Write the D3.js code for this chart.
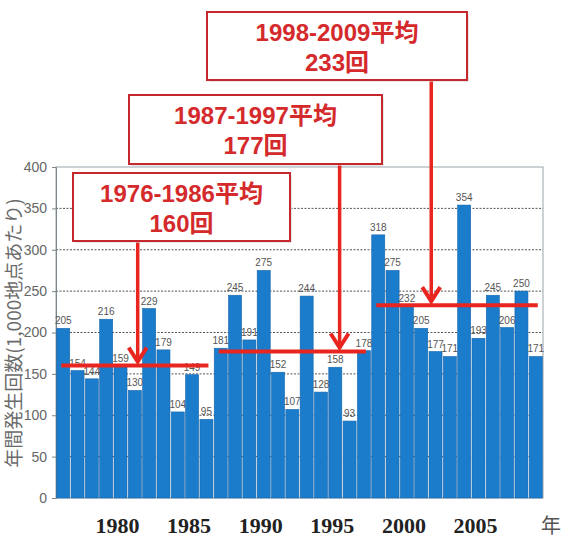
<!DOCTYPE html>
<html>
<head>
<meta charset="utf-8">
<script src="https://cdn.jsdelivr.net/npm/d3@7"></script>
<style>
  html, body { margin: 0; padding: 0; background: #fff; }
  svg { display: block; }
</style>
</head>
<body>
<svg id="chart" width="564" height="539"></svg>
<script>
// Annual occurrences per 1,000 observation points, 1976–2009
const years = d3.range(1976, 2010);
const counts = [205, 154, 144, 216, 159, 130, 229, 179, 104, 149, 95,
                181, 245, 191, 275, 152, 107, 244, 128, 158, 93, 178,
                318, 275, 232, 205, 177, 171, 354, 193, 245, 206, 250, 171];
const yTicks = [0, 50, 100, 150, 200, 250, 300, 350, 400];
const xTickYears = [1980, 1985, 1990, 1995, 2000, 2005];

// Period averages
const periodStart = [1976, 1987, 1998];
const periodEnd = [1986, 1997, 2009];
const periodAvg = [160, 177, 233];
const arrowYear = [1981.2, 1995.3, 2001.7];

// Callout box placement (pixels)
const boxes = [
  { x0: 73, x1: 290, y0: 173, y1: 241 },
  { x0: 129, x1: 382, y0: 95, y1: 164 },
  { x0: 207, x1: 467, y0: 12, y1: 80 }
];

const svg = d3.select("#chart");
const plot = { left: 56, right: 543, top: 167, bottom: 498 };

const x = d3.scaleBand().domain(years).range([plot.left, plot.right])
  .paddingInner(0.09).paddingOuter(0.05);
const y = d3.scaleLinear().domain([0, 400]).range([plot.bottom, plot.top]);
// continuous year position (center of band)
const xc = d3.scaleLinear()
  .domain([1976, 2009])
  .range([x(1976) + x.bandwidth() / 2, x(2009) + x.bandwidth() / 2]);

const red = "#e8261f";
const boxRed = "#c4282c";
const textRed = "#d52a2c";

// gridlines (dotted)
svg.append("g").selectAll("line")
  .data(yTicks.filter(d => d > 0 && d < 400))
  .join("line")
  .attr("x1", plot.left).attr("x2", plot.right)
  .attr("y1", d => y(d)).attr("y2", d => y(d))
  .attr("stroke", "#555").attr("stroke-width", 1)
  .attr("stroke-dasharray", "2,1.5");

// frame
svg.append("rect")
  .attr("x", plot.left).attr("y", plot.top)
  .attr("width", plot.right - plot.left).attr("height", plot.bottom - plot.top)
  .attr("fill", "none").attr("stroke", "#9aa3a8").attr("stroke-width", 1);

// y axis
const yAxis = svg.append("g")
  .attr("transform", `translate(${plot.left},0)`)
  .call(d3.axisLeft(y).tickValues(yTicks).tickSize(4).tickPadding(5));
yAxis.select(".domain").attr("stroke", "#7d868b");
yAxis.selectAll(".tick line").attr("stroke", "#7d868b");
yAxis.selectAll("text")
  .attr("fill", "#666")
  .style("font-family", "'Liberation Sans Narrow', 'Liberation Sans', sans-serif")
  .style("font-size", "14px");

// bars
svg.append("g").selectAll("rect")
  .data(years)
  .join("rect")
  .attr("x", d => x(d))
  .attr("y", (d, i) => y(counts[i]))
  .attr("width", x.bandwidth())
  .attr("height", (d, i) => y(0) - y(counts[i]))
  .attr("fill", "#1b7ccb")
  .attr("stroke", "#1566ad").attr("stroke-width", 0.6);

// value labels
svg.append("g").selectAll("text")
  .data(years)
  .join("text")
  .attr("x", d => x(d) + x.bandwidth() / 2)
  .attr("y", (d, i) => y(counts[i]) - 4)
  .attr("text-anchor", "middle")
  .attr("fill", "#555")
  .style("font-family", "'Liberation Sans Narrow', 'Liberation Sans', sans-serif")
  .style("font-size", "10px")
  .text((d, i) => counts[i]);

// x axis labels
svg.append("g").selectAll("text")
  .data(xTickYears)
  .join("text")
  .attr("x", d => xc(d) - 3)
  .attr("y", 533)
  .attr("text-anchor", "middle")
  .attr("fill", "#222")
  .style("font-family", "'Liberation Serif', 'DejaVu Serif', serif")
  .style("font-weight", "bold")
  .style("font-size", "22px")
  .text(d => d);

svg.append("text")
  .attr("x", 551).attr("y", 533)
  .attr("text-anchor", "middle")
  .attr("fill", "#555")
  .style("font-family", "'Noto Sans CJK JP', sans-serif")
  .style("font-size", "20px")
  .text("年");

// y axis title
svg.append("text")
  .attr("transform", "translate(21,333) rotate(-90)")
  .attr("text-anchor", "middle")
  .attr("fill", "#6b6b6b")
  .style("font-family", "'Noto Sans CJK JP', sans-serif")
  .style("font-size", "19px")
  .text("年間発生回数(1,000地点あたり)");

// average lines
svg.append("g").selectAll("line")
  .data(periodAvg)
  .join("line")
  .attr("x1", (d, i) => xc(periodStart[i]) - 2)
  .attr("x2", (d, i) => xc(periodEnd[i]) + 2)
  .attr("y1", d => y(d)).attr("y2", d => y(d))
  .attr("stroke", red).attr("stroke-width", 4);

// callouts: box, text, arrow
periodAvg.forEach((avg, i) => {
  const b = boxes[i];
  const g = svg.append("g");
  const ax = xc(arrowYear[i]);
  const tipY = y(avg) - 4;

  // arrow shaft
  g.append("line")
    .attr("x1", ax).attr("x2", ax)
    .attr("y1", b.y1).attr("y2", tipY)
    .attr("stroke", red).attr("stroke-width", 3.5);
  // chevron head
  g.append("path")
    .attr("d", `M${ax - 9},${tipY - 14} L${ax},${tipY} L${ax + 9},${tipY - 14}`)
    .attr("fill", "none").attr("stroke", red)
    .attr("stroke-width", 4).attr("stroke-linejoin", "miter");

  // shadow + box
  g.append("rect")
    .attr("x", b.x0 + 2).attr("y", b.y0 + 2)
    .attr("width", b.x1 - b.x0).attr("height", b.y1 - b.y0)
    .attr("fill", "#d8d8d8").attr("opacity", 0.6);
  g.append("rect")
    .attr("x", b.x0).attr("y", b.y0)
    .attr("width", b.x1 - b.x0).attr("height", b.y1 - b.y0)
    .attr("fill", "#fff").attr("stroke", boxRed).attr("stroke-width", 2);

  const cx = (b.x0 + b.x1) / 2;
  const txt = g.append("text")
    .attr("text-anchor", "middle")
    .attr("fill", textRed)
    .style("font-family", "'Liberation Sans', 'Noto Sans CJK JP', sans-serif")
    .style("font-weight", "bold")
    .style("font-size", "24px");
  txt.append("tspan").attr("x", cx).attr("y", b.y0 + 29)
    .text(`${periodStart[i]}-${periodEnd[i]}平均`);
  txt.append("tspan").attr("x", cx).attr("y", b.y0 + 59)
    .text(`${avg}回`);
});
</script>
</body>
</html>
